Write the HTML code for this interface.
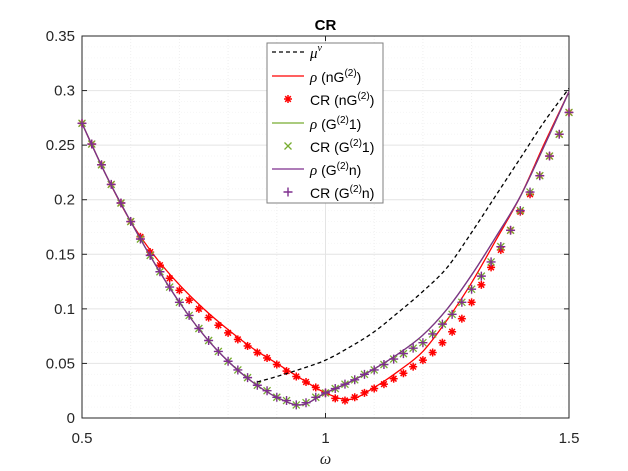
<!DOCTYPE html>
<html><head><meta charset="utf-8"><style>
body{margin:0;background:#fff;width:628px;height:471px;overflow:hidden}
svg{display:block;font-family:"Liberation Sans",sans-serif}
</style></head><body>
<svg id="chart" width="628" height="471"></svg>
<script>
const lineOmega=[0.5,0.55,0.6,0.65,0.7,0.75,0.8,0.85,0.9,0.95,1.0,1.05,1.1,1.15,1.2,1.25,1.3,1.35,1.4,1.45,1.5];
const rhoPurple=[0.270,0.222,0.180,0.141,0.106,0.076,0.052,0.033,0.019,0.012,0.023,0.033,0.045,0.059,0.076,0.100,0.131,0.166,0.203,0.250,0.299];
const rhoGreen=[0.270,0.222,0.180,0.141,0.106,0.076,0.052,0.033,0.019,0.012,0.023,0.033,0.045,0.059,0.076,0.100,0.131,0.166,0.203,0.250,0.299];
const rhoRed=[0.270,0.222,0.180,0.148,0.122,0.100,0.081,0.064,0.050,0.036,0.023,0.017,0.028,0.043,0.061,0.090,0.124,0.163,0.203,0.252,0.299];
const muOmega=[0.86,0.9,0.95,1.0,1.05,1.1,1.15,1.2,1.25,1.3,1.35,1.4,1.45,1.5];
const muNu=[0.033,0.038,0.045,0.053,0.065,0.079,0.097,0.116,0.138,0.170,0.204,0.238,0.272,0.302];
const mkOmega=[0.50,0.52,0.54,0.56,0.58,0.60,0.62,0.64,0.66,0.68,0.70,0.72,0.74,0.76,0.78,0.80,0.82,0.84,0.86,0.88,0.90,0.92,0.94,0.96,0.98,1.00,1.02,1.04,1.06,1.08,1.10,1.12,1.14,1.16,1.18,1.20,1.22,1.24,1.26,1.28,1.30,1.32,1.34,1.36,1.38,1.40,1.42,1.44,1.46,1.48,1.50];
const crPurple=[0.270,0.251,0.232,0.214,0.197,0.180,0.164,0.149,0.134,0.120,0.106,0.094,0.082,0.071,0.061,0.052,0.044,0.037,0.030,0.025,0.019,0.016,0.012,0.014,0.019,0.023,0.027,0.031,0.035,0.040,0.044,0.049,0.054,0.059,0.064,0.069,0.077,0.086,0.095,0.106,0.118,0.130,0.143,0.157,0.172,0.190,0.207,0.222,0.240,0.260,0.280];
const crGreen=[0.270,0.251,0.232,0.214,0.197,0.180,0.164,0.149,0.134,0.120,0.106,0.094,0.082,0.071,0.061,0.052,0.044,0.037,0.030,0.025,0.019,0.016,0.012,0.014,0.019,0.023,0.027,0.031,0.035,0.040,0.044,0.049,0.054,0.059,0.064,0.069,0.077,0.086,0.095,0.106,0.118,0.130,0.143,0.157,0.172,0.190,0.207,0.222,0.240,0.260,0.280];
const crRed=[0.270,0.251,0.232,0.214,0.197,0.180,0.166,0.152,0.140,0.128,0.117,0.108,0.100,0.092,0.085,0.078,0.072,0.066,0.060,0.055,0.049,0.043,0.038,0.033,0.028,0.023,0.018,0.016,0.019,0.023,0.027,0.031,0.036,0.041,0.047,0.053,0.060,0.069,0.079,0.091,0.106,0.122,0.138,0.154,0.172,0.189,0.205,0.222,0.240,0.260,0.280];
const xTicks=[0.5,1,1.5];
const xTickLabels=["0.5","1","1.5"];
const yTicks=[0,0.05,0.1,0.15,0.2,0.25,0.3,0.35];
const yTickLabels=["0","0.05","0.1","0.15","0.2","0.25","0.3","0.35"];

const L=82,R=569,T=36,B=418;
const X=v=>L+(v-0.5)/(1.0)*(R-L);
const Y=v=>B-v/0.35*(B-T);
const svg=document.getElementById('chart');
const NS='http://www.w3.org/2000/svg';
function mk(tag,attrs,parent){const e=document.createElementNS(NS,tag);for(const k in attrs)e.setAttribute(k,attrs[k]);(parent||svg).appendChild(e);return e;}

const grid=mk('g',{});


for(let v=0.6;v<1.5;v+=0.1){if(Math.abs(v-1)<1e-6)continue;mk('line',{x1:X(v),x2:X(v),y1:T,y2:B,stroke:'#eeeeee','stroke-dasharray':'1,2','stroke-width':1},grid);}
for(let i=1;i<35;i++){if(i%5===0)continue;const v=i*0.01;mk('line',{x1:L,x2:R,y1:Y(v),y2:Y(v),stroke:'#f6f6f6','stroke-dasharray':'1,2','stroke-width':1},grid);}
xTicks.forEach(v=>mk('line',{x1:X(v),x2:X(v),y1:T,y2:B,stroke:'#e4e4e4'},grid));
yTicks.forEach(v=>mk('line',{x1:L,x2:R,y1:Y(v),y2:Y(v),stroke:'#e4e4e4'},grid));

const box=mk('rect',{x:L,y:T,width:R-L,height:B-T,fill:'none',stroke:'#262626','stroke-width':1});


xTicks.forEach((v,i)=>{
  mk('line',{x1:X(v),x2:X(v),y1:B,y2:B-5,stroke:'#262626'});
  mk('line',{x1:X(v),x2:X(v),y1:T,y2:T+5,stroke:'#262626'});
  const t=mk('text',{x:X(v),y:443,'font-size':15,'text-anchor':'middle',fill:'#262626'});
  t.textContent=xTickLabels[i];
  
  
});
yTicks.forEach((v,i)=>{
  mk('line',{x1:L,x2:L+5,y1:Y(v),y2:Y(v),stroke:'#262626'});
  mk('line',{x1:R,x2:R-5,y1:Y(v),y2:Y(v),stroke:'#262626'});
  const t=mk('text',{x:L-7,y:Y(v)+5,'font-size':15,'text-anchor':'end',fill:'#262626'});
  t.textContent=yTickLabels[i];
  
  
});
const title=mk('text',{x:(L+R)/2,y:30,'font-size':15,'font-weight':'bold','text-anchor':'middle',fill:'#000'});
title.textContent='CR';


const xl=mk('text',{x:(L+R)/2,y:464,'font-size':16,'font-style':'italic','text-anchor':'middle',fill:'#262626','font-family':'"Liberation Serif",serif'});
xl.textContent='ω';



function line(xs,ys,color,dash,name){
  const P=xs.map((x,i)=>[X(x),Y(ys[i])]);
  let d='M'+P[0][0]+','+P[0][1];
  for(let i=0;i<P.length-1;i++){
    const p0=P[Math.max(0,i-1)],p1=P[i],p2=P[i+1],p3=P[Math.min(P.length-1,i+2)];
    const c1=[p1[0]+(p2[0]-p0[0])/6,p1[1]+(p2[1]-p0[1])/6];
    const c2=[p2[0]-(p3[0]-p1[0])/6,p2[1]-(p3[1]-p1[1])/6];
    d+=`C${c1[0]},${c1[1]} ${c2[0]},${c2[1]} ${p2[0]},${p2[1]}`;
  }
  const p=mk('path',{d:d,fill:'none',stroke:color,'stroke-width':1.3,'stroke-dasharray':dash||'none'});
  
  
}
function star(g,cx,cy,c){for(let a=0;a<4;a++){const an=a*Math.PI/4;mk('line',{x1:cx-4*Math.cos(an),y1:cy-4*Math.sin(an),x2:cx+4*Math.cos(an),y2:cy+4*Math.sin(an),stroke:c,'stroke-width':1.5},g);}}
function cross(g,cx,cy,c){mk('path',{d:`M${cx-3.5},${cy-3.5}L${cx+3.5},${cy+3.5}M${cx-3.5},${cy+3.5}L${cx+3.5},${cy-3.5}`,stroke:c,'stroke-width':1.3},g);}
function plus(g,cx,cy,c){mk('path',{d:`M${cx-4.5},${cy}L${cx+4.5},${cy}M${cx},${cy-4.5}L${cx},${cy+4.5}`,stroke:c,'stroke-width':1.4},g);}
function markers(xs,ys,fn,c,name){
  const g=mk('g',{});
  
  
  xs.forEach((x,i)=>fn(g,X(x),Y(ys[i]),c));
}
const RED='#ff0000',GREEN='#77ac30',PURPLE='#7e2f8e';
markers(mkOmega,crRed,star,RED,'cr-nG2-markers');
line(lineOmega,rhoRed,RED,null,'rho-nG2-line');
line(lineOmega,rhoGreen,GREEN,null,'rho-G21-line');
markers(mkOmega,crGreen,cross,GREEN,'cr-G21-markers');
line(lineOmega,rhoPurple,PURPLE,null,'rho-G2n-line');
markers(mkOmega,crPurple,plus,PURPLE,'cr-G2n-markers');
line(muOmega,muNu,'#000','4,3','mu-nu-line');

const lg=mk('g',{});


mk('rect',{x:267,y:43,width:116,height:160,fill:'#fff',stroke:'#7f7f7f'},lg);
const rows=[55,79,102,126,149,172,195];
const ents=[['dash','#000','μ','ν'],['line',RED,'ρ',' (nG','(2)',')'],['star',RED,'CR (nG','(2)',')'],['line',GREEN,'ρ',' (G','(2)','1)'],['cross',GREEN,'CR (G','(2)','1)'],['line',PURPLE,'ρ',' (G','(2)','n)'],['plus',PURPLE,'CR (G','(2)','n)']];
ents.forEach((e,i)=>{
  const y=rows[i];
  const g=mk('g',{},lg);
  
  
  if(e[0]==='dash')mk('line',{x1:272,x2:304,y1:y-3,y2:y-3,stroke:'#000','stroke-width':1.3,'stroke-dasharray':'4,3'},g);
  if(e[0]==='line')mk('line',{x1:272,x2:304,y1:y-3,y2:y-3,stroke:e[1],'stroke-width':1.3},g);
  if(e[0]==='star')star(g,288,y-3,e[1]);
  if(e[0]==='cross')cross(g,288,y-3,e[1]);
  if(e[0]==='plus')plus(g,288,y-3,e[1]);
  const t=mk('text',{x:310,y:y+3,'font-size':14,fill:'#000'},g);
  if(e[0]==='dash'){
    t.innerHTML='<tspan font-style="italic" font-family="Liberation Serif,serif" font-size="15">μ</tspan><tspan font-style="italic" font-family="Liberation Serif,serif" font-size="10" dy="-7">ν</tspan>';
  }else if(e[0]==='line'){
    t.innerHTML=`<tspan font-style="italic" font-family="Liberation Serif,serif" font-size="15">${e[2]}</tspan><tspan>${e[3]}</tspan><tspan font-size="10" dy="-6">${e[4]}</tspan><tspan dy="6">${e[5]}</tspan>`;
  }else{
    t.innerHTML=`<tspan>${e[2]}</tspan><tspan font-size="10" dy="-6">${e[3]}</tspan><tspan dy="6">${e[4]}</tspan>`;
  }
});
</script>
</body></html>
